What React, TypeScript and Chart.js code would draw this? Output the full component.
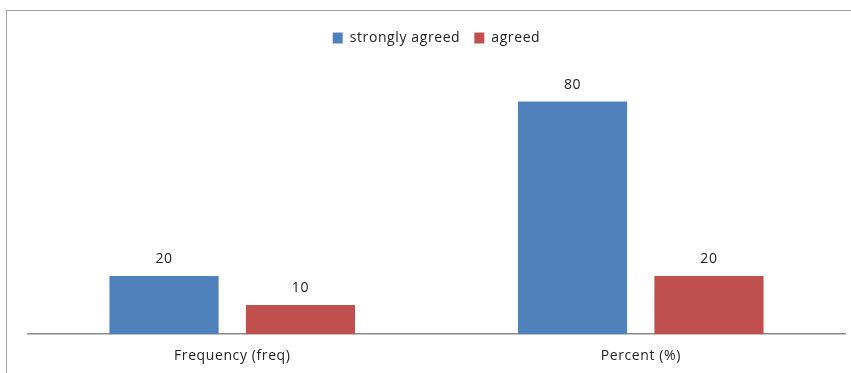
import React, { useEffect, useRef } from "react";
import { Chart, registerables } from "chart.js";

Chart.register(...registerables);

const categories = ["Frequency (freq)", "Percent (%)"];
const seriesNames = ["strongly agreed", "agreed"];
const stronglyAgreed = [20, 80];
const agreed = [10, 20];
const seriesColors = ["#4F81BD", "#C0504D"];

const FONT = "'Open Sans', sans-serif";
const SPACING = "0.6px";

// Slightly widened letter spacing for all canvas text
const textSpacing = {
  id: "textSpacing",
  beforeInit(chart: any) {
    chart.ctx.letterSpacing = SPACING;
  },
  beforeUpdate(chart: any) {
    chart.ctx.letterSpacing = SPACING;
  },
  beforeDraw(chart: any) {
    chart.ctx.letterSpacing = SPACING;
  },
};

// Writes each bar's value just above it
const valueLabels = {
  id: "valueLabels",
  afterDatasetsDraw(chart: any) {
    const ctx = chart.ctx;
    ctx.save();
    ctx.font = `14px ${FONT}`;
    ctx.fillStyle = "#222";
    ctx.textAlign = "center";
    ctx.textBaseline = "middle";
    chart.data.datasets.forEach((ds: any, i: number) => {
      const meta = chart.getDatasetMeta(i);
      meta.data.forEach((bar: any, j: number) => {
        ctx.fillText(String(ds.data[j]), bar.x, bar.y - 17);
      });
    });
    ctx.restore();
  },
};

export default function App() {
  const canvasRef = useRef<HTMLCanvasElement>(null);

  useEffect(() => {
    if (!canvasRef.current) return;
    const chart = new Chart(canvasRef.current, {
      type: "bar",
      data: {
        labels: categories,
        datasets: [
          {
            label: seriesNames[0],
            data: stronglyAgreed,
            backgroundColor: seriesColors[0],
            categoryPercentage: 0.668,
            barPercentage: 0.8,
          },
          {
            label: seriesNames[1],
            data: agreed,
            backgroundColor: seriesColors[1],
            categoryPercentage: 0.668,
            barPercentage: 0.8,
          },
        ],
      },
      options: {
        animation: false,
        responsive: false,
        layout: { padding: { left: 28, right: 6, top: 17, bottom: 0 } },
        plugins: {
          legend: {
            position: "top",
            labels: {
              boxWidth: 10,
              boxHeight: 11,
              padding: 14,
              color: "#222",
              font: { family: FONT, size: 14 },
            },
          },
          tooltip: { enabled: false },
        },
        scales: {
          x: {
            grid: { display: false, drawTicks: false },
            border: { display: true, color: "#8a8a8a", width: 1.5 },
            ticks: {
              color: "#222",
              padding: 13,
              font: { family: FONT, size: 14 },
            },
          },
          y: {
            display: false,
            min: 0,
            max: 96,
          },
        },
      },
      plugins: [textSpacing, valueLabels],
    });
    return () => chart.destroy();
  }, []);

  return (
    <div
      style={{
        position: "fixed",
        left: 0,
        top: 0,
        width: 851,
        height: 373,
        overflow: "hidden",
        background: "#fff",
      }}
    >
      <div
        style={{
          position: "absolute",
          left: 6,
          top: 10,
          width: 900,
          height: 400,
          borderLeft: "1px solid #a6a6a6",
          borderTop: "1px solid #a6a6a6",
        }}
      />
      <canvas
        ref={canvasRef}
        width={851}
        height={377}
        style={{ position: "absolute", left: 0, top: 0 }}
      />
    </div>
  );
}
